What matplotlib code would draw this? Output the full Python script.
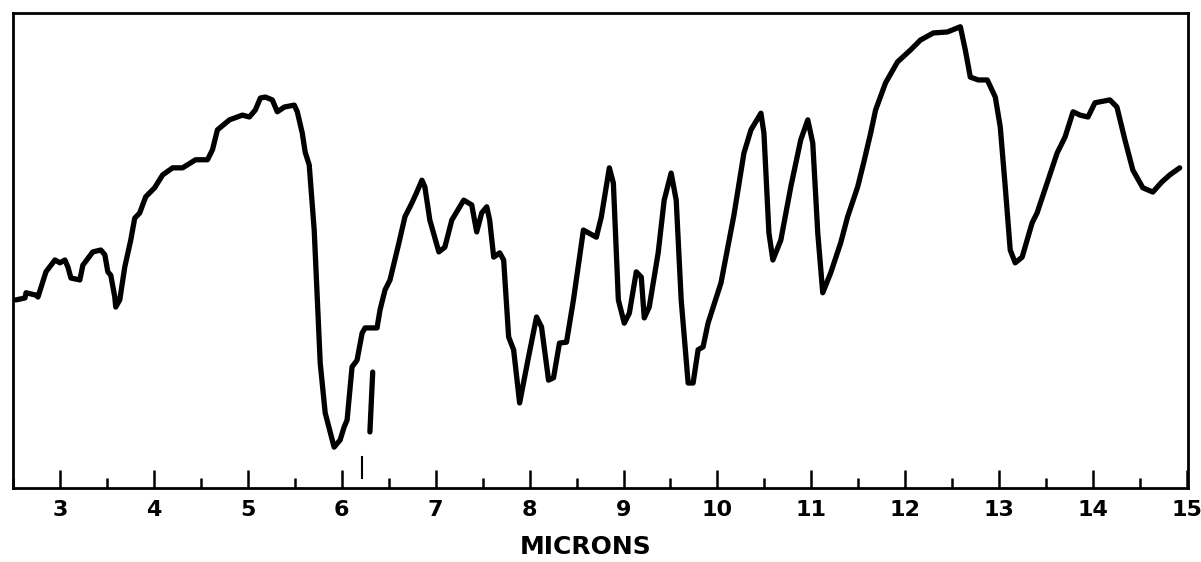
import numpy as np
import matplotlib
matplotlib.use("Agg")
import matplotlib.pyplot as plt

# =========================
# 1. SPECTRUM TRACE
# =========================
# wavelength in microns
wavelength = [
    2.533, 2.628, 2.639, 2.745, 2.766, 2.851, 2.947, 3.000, 3.053, 3.085,
    3.117, 3.212, 3.244, 3.350, 3.435, 3.478, 3.510, 3.541, 3.584, 3.594,
    3.637, 3.690, 3.754, 3.796, 3.849, 3.913, 4.008, 4.093, 4.200, 4.306,
    4.444, 4.571, 4.624, 4.677, 4.805, 4.943, 5.017, 5.081, 5.134, 5.187,
    5.261, 5.314, 5.389, 5.495, 5.527, 5.580, 5.611, 5.654, 5.707, 5.739,
    5.771, 5.824, 5.919, 5.983, 6.025, 6.057, 6.110, 6.163, 6.217, 6.248,
    6.376, 6.408, 6.461, 6.514, 6.609, 6.673, 6.747, 6.800, 6.854, 6.885,
    6.938, 7.034, 7.098, 7.172, 7.299, 7.384, 7.437, 7.490, 7.544, 7.575,
    7.618, 7.682, 7.724, 7.777, 7.830, 7.894, 7.989, 8.074, 8.127, 8.202,
    8.255, 8.318, 8.393, 8.467, 8.573, 8.711, 8.764, 8.849, 8.892, 8.945,
    9.008, 9.062, 9.136, 9.189, 9.221, 9.274, 9.369, 9.433, 9.507, 9.561,
    9.614, 9.688, 9.741, 9.794, 9.847, 9.900, 10.038, 10.176, 10.282, 10.357,
    10.463, 10.495, 10.548, 10.590, 10.675, 10.781, 10.887, 10.962, 11.015, 11.068,
    11.121, 11.206, 11.312, 11.386, 11.493, 11.556, 11.631, 11.684, 11.790, 11.917,
    12.055, 12.161, 12.299, 12.448, 12.586, 12.639, 12.692, 12.777, 12.873, 12.958,
    13.011, 13.064, 13.117, 13.170, 13.244, 13.350, 13.403, 13.510, 13.616, 13.701,
    13.786, 13.860, 13.945, 14.019, 14.178, 14.253, 14.338, 14.423, 14.529, 14.635,
    14.730, 14.815, 14.921,
]

# relative transmission (% of chart height)
transmission = [
    39.6, 40.0, 41.1, 40.6, 40.2, 45.5, 48.0, 47.4, 48.0, 46.5,
    44.2, 43.8, 46.9, 49.7, 50.1, 49.1, 45.5, 44.8, 40.2, 38.1,
    39.6, 46.5, 52.2, 56.8, 57.9, 61.3, 63.2, 65.9, 67.4, 67.4,
    69.1, 69.1, 71.2, 75.4, 77.5, 78.5, 78.1, 79.6, 82.1, 82.3,
    81.7, 79.2, 80.2, 80.6, 79.2, 74.7, 70.7, 68.0, 54.3, 40.2,
    26.3, 15.8, 8.6, 10.1, 12.8, 14.3, 25.5, 26.9, 32.6, 33.7,
    33.7, 37.5, 41.7, 43.8, 51.6, 57.1, 60.0, 62.3, 64.8, 63.4,
    56.4, 49.7, 50.7, 56.4, 60.6, 59.6, 53.9, 57.9, 59.2, 56.4,
    48.6, 49.5, 48.0, 31.8, 29.1, 17.9, 27.6, 36.0, 33.9, 22.7,
    23.2, 30.5, 30.7, 39.6, 54.3, 52.8, 57.1, 67.4, 64.2, 39.6,
    34.7, 36.8, 45.5, 44.4, 35.8, 38.1, 49.5, 60.6, 66.3, 60.6,
    39.6, 22.1, 22.1, 29.1, 29.7, 34.7, 43.2, 57.5, 70.5, 75.4,
    78.9, 74.7, 53.7, 48.0, 52.2, 63.4, 73.3, 77.5, 72.6, 53.7,
    41.1, 45.3, 51.6, 57.1, 63.4, 68.4, 74.7, 79.6, 85.3, 89.7,
    92.2, 94.3, 95.8, 96.0, 97.1, 92.2, 86.5, 85.9, 85.9, 82.3,
    76.0, 63.4, 50.1, 47.4, 48.6, 55.8, 57.9, 64.2, 70.5, 73.9,
    79.2, 78.5, 78.1, 81.1, 81.7, 80.2, 73.3, 66.9, 63.2, 62.3,
    64.4, 65.9, 67.4,
]

# separate pen stroke near the 6.3 micron band
stroke_x = [6.30, 6.33]
stroke_y = [11.8, 24.4]

# reference mark just above the scale
ref_mark_x = 6.22
ref_mark_y = [2.1, 6.5]

major_ticks = list(range(3, 16))
minor_ticks = [m + 0.5 for m in range(2, 15)]

# =========================
# 2. PLOT
# =========================
fig = plt.figure(figsize=(12.01, 5.62), dpi=100)
ax = fig.add_axes([0.0108, 0.1317, 0.9784, 0.8452])

ax.plot(wavelength, transmission, color="black", linewidth=3.8,
        solid_joinstyle="round", solid_capstyle="round")
ax.plot(stroke_x, stroke_y, color="black", linewidth=3.8, solid_capstyle="round")
ax.plot([ref_mark_x, ref_mark_x], ref_mark_y, color="black", linewidth=1.5)

ax.set_xlim(2.53, 15.01)
ax.set_ylim(0, 100)

ax.set_xticks(major_ticks)
ax.set_xticklabels([str(t) for t in major_ticks])
ax.set_xticks(minor_ticks, minor=True)
ax.set_yticks([])

ax.tick_params(axis="x", which="major", direction="in", length=13, width=1.8,
               pad=9, labelsize=16)
ax.tick_params(axis="x", which="minor", direction="in", length=7, width=1.8)
for lbl in ax.get_xticklabels():
    lbl.set_fontweight("bold")

for spine in ax.spines.values():
    spine.set_linewidth(2.0)

ax.set_xlabel("MICRONS", fontsize=18, fontweight="bold")
ax.xaxis.set_label_coords(0.487, -0.1)

plt.savefig("out.png", dpi=100)
